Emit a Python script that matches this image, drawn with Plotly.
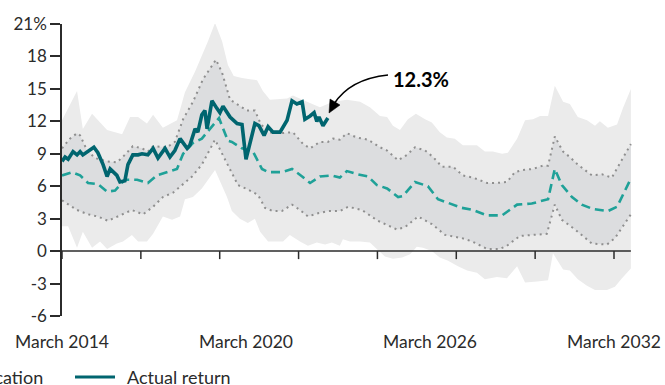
import plotly.graph_objects as go

# ---- data (x = years since March 2014, y = annualised return %) ----
outer_up_x = [0, 0.49, 0.68, 0.98, 1.47, 1.96, 2.22, 2.48, 2.77, 2.97, 3.29, 3.75, 4.01, 4.34, 4.76, 4.99, 5.22, 5.41, 5.60, 5.87, 6.13, 6.36, 6.55, 6.78, 7.34, 7.53, 7.99, 8.41, 8.84, 9.29, 9.72, 10.04, 10.37, 10.60, 10.79, 11.02, 11.28, 11.54, 11.84, 12.06, 12.32, 12.55, 12.81, 13.07, 13.53, 13.79, 14.05, 14.35, 14.54, 14.84, 15.10, 15.36, 15.59, 15.85, 16.07, 16.34, 16.56, 16.82, 17.12, 17.38, 17.54, 17.80, 18.10, 18.29, 18.55]
outer_up_y = [12.1, 14.8, 11.3, 12.7, 11.2, 10.8, 12.4, 12.4, 11.8, 12.6, 11.4, 12.1, 14.7, 16.6, 19.4, 21.1, 19.4, 17.2, 16.2, 16.0, 15.9, 15.8, 14.8, 14.0, 14.1, 14.4, 13.8, 13.3, 13.8, 14.0, 13.8, 13.3, 12.5, 12.4, 11.6, 11.2, 12.2, 12.7, 12.2, 11.9, 11.0, 10.5, 10.4, 9.8, 9.8, 9.2, 9.2, 9.0, 9.1, 10.4, 12.1, 12.2, 12.5, 12.5, 15.3, 13.8, 13.6, 12.4, 12.1, 11.6, 12.0, 11.4, 11.7, 13.2, 15.0]
outer_lo_x = [0, 0.20, 0.49, 0.68, 0.98, 1.24, 1.47, 1.79, 1.99, 2.28, 2.48, 2.77, 2.97, 3.29, 3.59, 3.85, 4.01, 4.27, 4.56, 4.99, 5.38, 5.54, 5.80, 6.06, 6.29, 6.46, 6.72, 7.21, 7.43, 7.76, 8.02, 8.31, 8.58, 8.80, 9.06, 9.16, 9.39, 9.72, 10.04, 10.30, 10.53, 10.79, 11.09, 11.35, 11.57, 11.77, 12.06, 12.32, 12.59, 12.91, 13.21, 13.53, 13.79, 14.18, 14.51, 14.67, 14.84, 15.10, 15.49, 15.85, 16.01, 16.34, 16.56, 16.82, 17.12, 17.38, 17.77, 18.03, 18.26, 18.55]
outer_lo_y = [2.3, 2.3, 0.3, 1.8, 0.3, 0.9, 0.2, 0.7, 0.9, 1.5, 0.9, 0.9, 1.6, 3.2, 2.9, 3.2, 4.8, 5.0, 5.8, 7.5, 5.0, 3.7, 3.0, 2.6, 3.0, 1.8, 0.9, 0.9, 1.5, 0.9, 0.5, 0.8, 0.6, 0.8, 0.5, 1.1, 0.9, 0.9, 0.8, 0.1, -0.5, -0.7, -0.6, -0.3, 0.4, 0.3, 0.0, -0.6, -0.9, -1.4, -1.8, -2.0, -2.6, -2.4, -2.5, -2.0, -1.4, -2.9, -2.8, -2.7, -0.2, -1.7, -1.8, -2.6, -3.2, -3.6, -3.6, -3.3, -2.5, -1.6]

inner_up_x = [0, 0.26, 0.49, 0.59, 0.82, 1.08, 1.47, 1.79, 2.05, 2.31, 2.61, 2.80, 2.97, 3.42, 3.68, 3.95, 4.27, 4.60, 5.02, 5.22, 5.48, 5.74, 6.03, 6.29, 6.46, 6.68, 7.11, 7.53, 7.86, 8.09, 8.41, 8.67, 8.84, 9.06, 9.29, 9.62, 9.98, 10.37, 10.60, 10.96, 11.25, 11.51, 11.84, 12.10, 12.39, 12.75, 13.07, 13.40, 13.86, 14.18, 14.51, 14.77, 15.03, 15.36, 15.68, 15.85, 16.07, 16.34, 16.56, 16.82, 17.28, 17.61, 17.93, 18.19, 18.55]
inner_up_y = [9.5, 10.4, 10.9, 10.7, 9.3, 8.6, 8.3, 8.2, 8.9, 9.7, 9.5, 9.2, 9.7, 9.6, 10.1, 12.2, 13.8, 15.9, 17.7, 16.5, 14.0, 13.5, 13.0, 13.0, 11.9, 11.0, 10.9, 11.0, 9.9, 9.5, 10.1, 10.1, 10.4, 10.3, 10.9, 10.5, 10.3, 9.6, 9.3, 8.4, 8.9, 9.6, 9.3, 8.7, 7.8, 7.8, 7.0, 6.8, 6.3, 6.3, 6.4, 7.3, 7.5, 7.6, 7.9, 7.9, 10.6, 9.2, 8.7, 8.0, 7.0, 7.1, 6.8, 8.1, 9.9]
inner_lo_x = [0, 0.49, 0.85, 1.17, 1.50, 1.83, 2.28, 2.64, 2.97, 3.29, 3.62, 4.24, 4.56, 4.99, 5.41, 5.74, 6.06, 6.39, 6.62, 6.88, 7.17, 7.50, 7.76, 8.02, 8.35, 8.67, 9.06, 9.33, 9.78, 10.30, 10.92, 11.18, 11.61, 12.06, 12.49, 13.04, 13.37, 13.86, 14.28, 14.51, 14.93, 15.42, 15.81, 16.07, 16.30, 16.73, 17.28, 17.77, 18.03, 18.55]
inner_lo_y = [4.7, 3.8, 3.4, 3.2, 2.8, 3.2, 3.8, 3.4, 4.1, 5.0, 5.4, 6.9, 8.0, 10.3, 8.0, 6.1, 5.7, 5.2, 4.0, 3.7, 3.7, 4.3, 3.8, 3.2, 3.5, 3.7, 3.7, 4.1, 3.8, 2.8, 2.0, 2.2, 3.2, 2.5, 1.5, 1.2, 0.9, 0.2, 0.2, 0.5, 1.4, 1.5, 1.6, 4.3, 2.9, 2.0, 0.7, 0.6, 1.2, 3.4]

median_x = [0, 0.33, 0.59, 0.85, 1.17, 1.47, 1.73, 2.05, 2.45, 2.80, 3.10, 3.46, 3.75, 3.95, 4.27, 4.56, 4.89, 5.12, 5.41, 5.54, 5.87, 6.23, 6.52, 6.72, 7.17, 7.50, 7.83, 8.09, 8.41, 8.80, 9.06, 9.29, 9.65, 9.98, 10.27, 10.60, 10.96, 11.12, 11.51, 11.93, 12.26, 12.65, 13.04, 13.40, 13.86, 14.35, 14.54, 14.84, 15.32, 15.85, 16.07, 16.30, 16.63, 16.95, 17.31, 17.80, 18.10, 18.55]
median_y = [7.0, 7.3, 7.0, 6.3, 6.2, 5.5, 5.6, 6.6, 6.6, 6.3, 7.0, 7.3, 7.6, 9.0, 10.0, 10.4, 11.5, 12.3, 10.2, 10.1, 9.5, 9.2, 7.6, 7.3, 7.3, 7.6, 6.9, 6.3, 6.9, 7.0, 6.8, 7.4, 7.1, 6.9, 6.1, 5.8, 5.0, 5.1, 6.4, 6.0, 4.8, 4.4, 4.0, 3.8, 3.3, 3.3, 3.7, 4.3, 4.4, 4.8, 7.6, 6.1, 5.0, 4.3, 3.9, 3.7, 4.1, 6.7]

actual_x = [0, 0.10, 0.20, 0.36, 0.49, 0.59, 0.68, 0.85, 1.04, 1.17, 1.34, 1.47, 1.57, 1.79, 1.89, 2.05, 2.15, 2.31, 2.48, 2.61, 2.80, 2.97, 3.13, 3.36, 3.52, 3.68, 3.85, 4.08, 4.17, 4.34, 4.43, 4.56, 4.66, 4.73, 4.89, 5.05, 5.15, 5.25, 5.48, 5.71, 5.87, 6.00, 6.13, 6.29, 6.42, 6.59, 6.72, 6.88, 7.11, 7.34, 7.50, 7.66, 7.83, 7.92, 8.09, 8.22, 8.31, 8.38, 8.51, 8.67]
actual_y = [8.3, 8.7, 8.5, 9.2, 8.9, 9.2, 8.9, 9.2, 9.6, 9.1, 8.0, 6.9, 7.6, 7.0, 6.4, 6.5, 8.0, 8.9, 8.9, 9.0, 8.9, 9.5, 8.6, 9.5, 8.7, 9.3, 10.4, 9.5, 9.8, 11.3, 11.0, 12.6, 13.0, 11.3, 13.9, 13.2, 12.8, 13.4, 12.4, 11.8, 11.7, 8.5, 10.1, 11.8, 11.6, 10.7, 11.5, 11.0, 11.0, 12.1, 13.9, 13.6, 13.8, 12.2, 12.5, 12.8, 12.0, 12.4, 11.6, 12.3]

tick_marks = [i * 18 / 7 for i in range(8)]
label_vals = [0, 6, 12, 18]
label_text = ["March 2014", "March 2020", "March 2026", "March 2032"]
y_vals = [-6, -3, 0, 3, 6, 9, 12, 15, 18, 21]
y_text = ["-6", "-3", "0", "3", "6", "9", "12", "15", "18", "21%"]
final_label = "12.3%"

FONT = "Lato"
DARK = "#2b2b2b"

fig = go.Figure()
fig.add_trace(go.Scatter(x=outer_up_x + outer_lo_x[::-1], y=outer_up_y + outer_lo_y[::-1],
                         fill="toself", fillcolor="#ebebeb", line=dict(width=0), mode="lines",
                         hoverinfo="skip", showlegend=False))
fig.add_trace(go.Scatter(x=inner_up_x + inner_lo_x[::-1], y=inner_up_y + inner_lo_y[::-1],
                         fill="toself", fillcolor="#dcdddf", line=dict(width=0), mode="lines",
                         hoverinfo="skip", showlegend=False))
for xs, ys in [(inner_up_x, inner_up_y), (inner_lo_x, inner_lo_y)]:
    fig.add_trace(go.Scatter(x=xs, y=ys, mode="lines",
                             line=dict(color="#8f8f8f", width=2, dash="2px,4px"),
                             showlegend=False))
fig.add_trace(go.Scatter(x=median_x, y=median_y, mode="lines",
                         line=dict(color="#1fa198", width=2.6, dash="9px,5px"),
                         showlegend=False))
fig.add_trace(go.Scatter(x=actual_x, y=actual_y, mode="lines",
                         line=dict(color="#00656f", width=3.6), showlegend=False))

shapes = []
# x axis baseline at zero and its ticks
shapes.append(dict(type="line", xref="x", yref="y", x0=0, x1=max(outer_up_x), y0=0, y1=0,
                   line=dict(color=DARK, width=1.5), layer="above"))
for t in tick_marks:
    shapes.append(dict(type="line", xref="x", yref="y", ysizemode="pixel", yanchor=0,
                       x0=t, x1=t, y0=0, y1=-8, line=dict(color=DARK, width=1.5), layer="above"))

# curved arrow for callout (paper coords; plot area 62..660 x 24..316 px)
def px(p):
    return (p - 62) / 598
def py(p):
    return (316 - p) / 292
shapes.append(dict(type="path", xref="paper", yref="paper",
                   path=f"M {px(388)},{py(75)} Q {px(350)},{py(79)} {px(334)},{py(104)}",
                   line=dict(color="black", width=1.5)))
shapes.append(dict(type="path", xref="paper", yref="paper",
                   path=f"M {px(329)},{py(113)} L {px(340)},{py(105)} L {px(330)},{py(99)} Z",
                   fillcolor="black", line=dict(color="black", width=0.5)))
# legend line samples
shapes.append(dict(type="line", xref="paper", yref="paper", x0=px(75), x1=px(115), y0=py(377), y1=py(377),
                   line=dict(color="#00656f", width=3)))
shapes.append(dict(type="line", xref="paper", yref="paper", x0=px(-80), x1=px(-40), y0=py(377), y1=py(377),
                   line=dict(color="#1fa198", width=2.6, dash="9px,5px")))

annotations = [
    dict(xref="paper", yref="paper", x=px(391), y=py(79), text=f"<b>{final_label}</b>", showarrow=False,
         xanchor="left", yanchor="middle", font=dict(family=FONT, size=20, color="black")),
    dict(xref="paper", yref="paper", x=px(45), y=py(377), text="Median projection for allocation",
         showarrow=False, xanchor="right", yanchor="middle", font=dict(family=FONT, size=18, color=DARK)),
    dict(xref="paper", yref="paper", x=px(125), y=py(377), text="Actual return",
         showarrow=False, xanchor="left", yanchor="middle", font=dict(family=FONT, size=18, color=DARK)),
]

fig.update_layout(
    width=665, height=385,
    margin=dict(l=62, r=5, t=24, b=69),
    paper_bgcolor="white", plot_bgcolor="white",
    font=dict(family=FONT, size=17, color=DARK),
    shapes=shapes, annotations=annotations,
    xaxis=dict(range=[0, 19.5], tickvals=label_vals, ticktext=label_text, showgrid=False,
               zeroline=False, showline=False, ticks="outside", ticklen=10,
               tickcolor="rgba(0,0,0,0)", tickfont=dict(family=FONT, size=17.5, color=DARK)),
    yaxis=dict(range=[-6, 21], tickvals=y_vals, ticktext=y_text, showgrid=False, zeroline=False,
               showline=True, linecolor=DARK, linewidth=1.5, ticks="outside", ticklen=10,
               tickwidth=1.5, tickcolor=DARK, tickfont=dict(family=FONT, size=17, color=DARK)),
)

fig.write_html("out.html", config={"displayModeBar": False},
               post_script="document.body.style.margin='0';document.body.style.overflow='hidden';")
